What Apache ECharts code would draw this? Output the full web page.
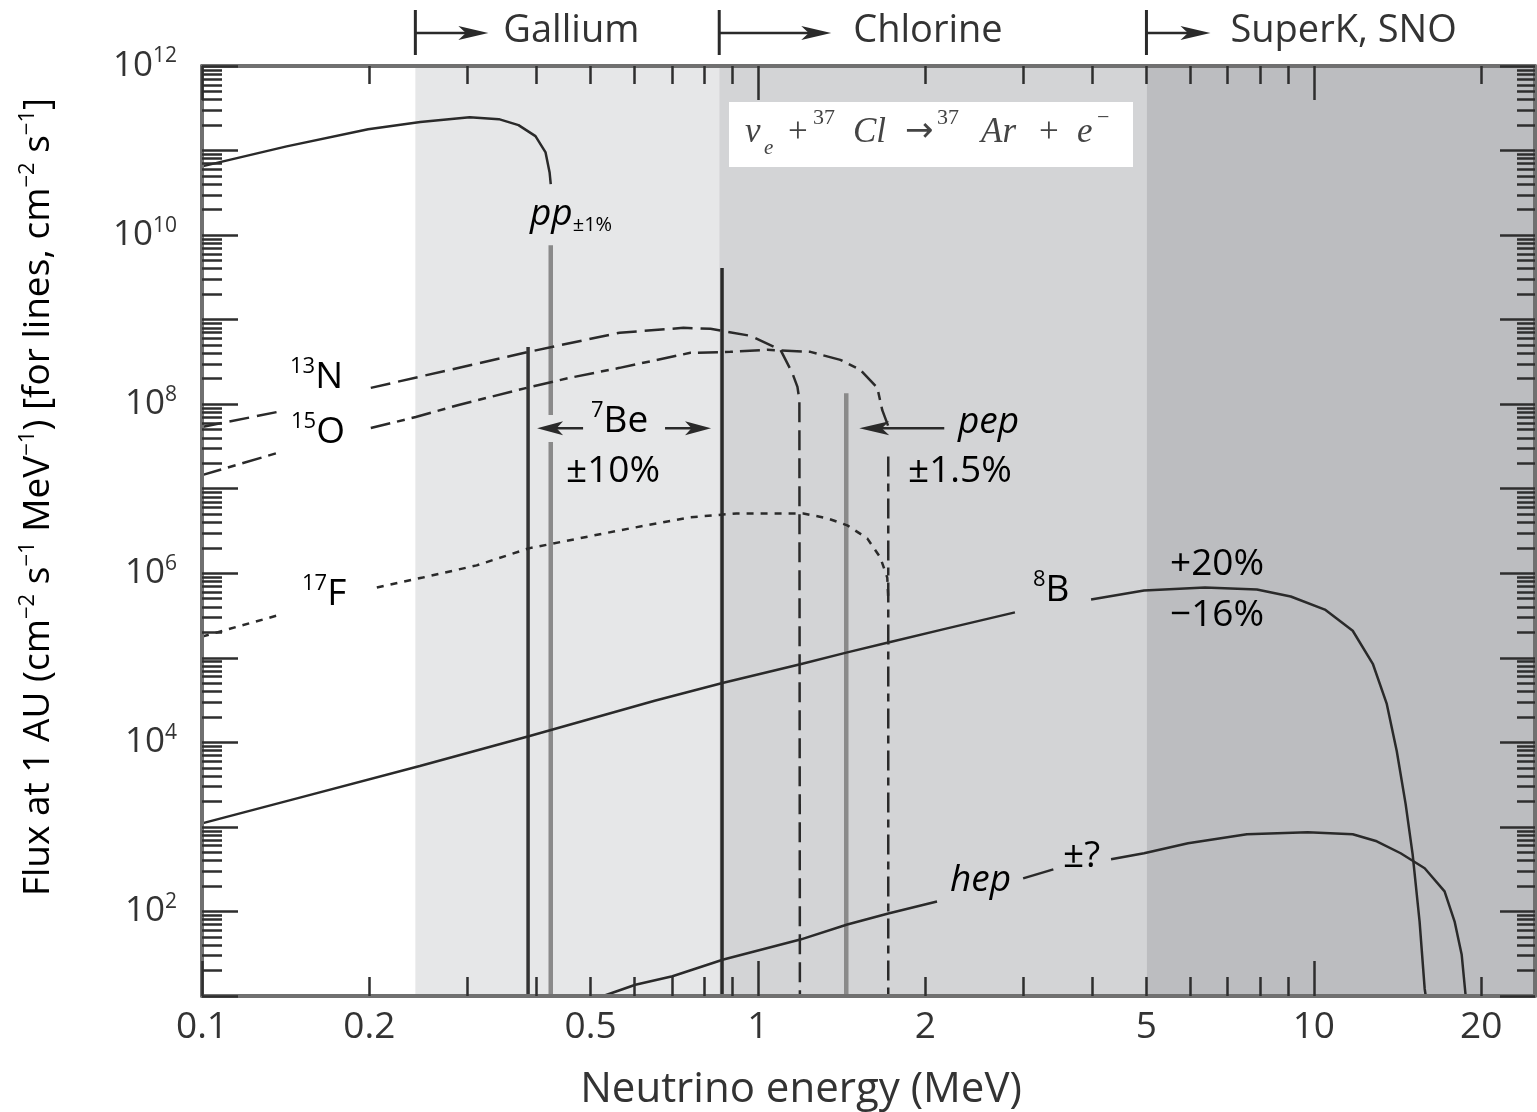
<!DOCTYPE html>
<html>
<head>
<meta charset="utf-8">
<title>Solar neutrino spectrum</title>
<script src="https://cdn.jsdelivr.net/npm/echarts@6/dist/echarts.min.js"></script>
<style>
html, body { margin: 0; padding: 0; background: #fff; }
#main { width: 1537px; height: 1112px; }
</style>
</head>
<body>
<div id="main"></div>
<script>
// axis ranges and ticks
var xMin = 0.1, xMax = 25, yMin = 10, yMax = 1e12;
var xLabelValues = [0.1, 0.2, 0.5, 1, 2, 5, 10, 20];
var xMajorTicks = [0.1, 1, 10];
var xMinorTicks = [0.2, 0.3, 0.4, 0.5, 0.6, 0.7, 0.8, 0.9, 2, 3, 4, 5, 6, 7, 8, 9, 20];
var yLabelValues = [1e2, 1e4, 1e6, 1e8, 1e10, 1e12];
var yMajorTicks = [1e1, 1e2, 1e3, 1e4, 1e5, 1e6, 1e7, 1e8, 1e9, 1e10, 1e11, 1e12];
var yMinorMultipliers = [2, 3, 4, 5, 6, 7, 8, 9];

// detector thresholds (MeV)
var thresholds = [0.242, 0.852, 5.0];
var thresholdNames = ['Gallium', 'Chlorine', 'SuperK, SNO'];

// spectra  [energy MeV, flux]
var ppCurve = [[0.1, 6.5e10], [0.142, 1.12e11], [0.199, 1.79e11], [0.247, 2.17e11], [0.303, 2.48e11],
  [0.342, 2.35e11], [0.371, 2.0e11], [0.398, 1.48e11], [0.415, 9.5e10], [0.422, 5.5e10], [0.424, 4.0e10]];
var ppDropUpper = [[0.424, 7.6e9], [0.424, 7.45e7]];
var ppDropLower = [[0.424, 3.56e7], [0.424, 10]];

var be7LineLow = [[0.386, 4.75e8], [0.386, 10]];
var be7LineHigh = [[0.862, 4.07e9], [0.862, 10]];
var pepLine = [[1.442, 1.35e8], [1.442, 10]];

var n13Left = [[0.1, 5.37e7], [0.1364, 8.07e7]];
var n13Right = [[0.2012, 1.56e8], [0.387, 4.16e8], [0.564, 7.0e8], [0.7347, 8.0e8], [0.8217, 7.8e8],
  [0.9694, 6.44e8], [1.098, 4.4e8], [1.153, 2.34e8], [1.178, 1.6e8], [1.1875, 1.12e8], [1.19, 10]];

var o15Left = [[0.1, 1.45e7], [0.1364, 2.64e7]];
var o15Right = [[0.2012, 5.22e7], [0.2424, 7.05e7], [0.2895, 9.8e7], [0.3837, 1.56e8], [0.4585, 2.05e8],
  [0.564, 2.69e8], [0.756, 4.05e8], [0.892, 4.16e8], [1.04, 4.4e8], [1.243, 4.16e8], [1.407, 3.34e8],
  [1.528, 2.55e8], [1.64, 1.56e8], [1.674, 8.5e7], [1.716, 5.5e7]];
var o15Drop = [[1.716, 2.4e7], [1.716, 10]];

var f17Left = [[0.1, 1.78e5], [0.1364, 3.16e5]];
var f17Right = [[0.2063, 6.8e5], [0.2495, 8.9e5], [0.312, 1.24e6], [0.387, 1.97e6], [0.564, 3.22e6],
  [0.756, 4.6e6], [0.915, 5.1e6], [1.207, 5.1e6], [1.333, 4.47e6], [1.448, 3.69e6], [1.573, 2.59e6],
  [1.66, 1.54e6], [1.709, 8.9e5], [1.716, 5e5]];

var b8Left = [[0.1, 1.1e3], [0.1488, 2.19e3], [0.2465, 5.25e3], [0.3885, 1.19e4], [0.652, 3.1e4],
  [0.867, 5.07e4], [1.192, 8.4e4], [1.448, 1.16e5], [1.716, 1.52e5], [2.19, 2.23e5], [2.90, 3.45e5]];
var b8Right = [[3.975, 4.89e5], [4.95, 6.25e5], [6.37, 6.79e5], [7.90, 6.43e5], [9.09, 5.31e5],
  [10.47, 3.72e5], [11.75, 2.09e5], [12.77, 8.5e4], [13.53, 2.85e4], [14.10, 7.9e3], [14.63, 1.86e3],
  [15.06, 474], [15.50, 76], [15.83, 12.2], [15.9, 10]];

var hepLeft = [[0.527, 10], [0.602, 13.6], [0.702, 17.1], [0.867, 27], [1.192, 46.5], [1.448, 70],
  [1.716, 94.6], [2.10, 131]];
var hepDash = [[3.0, 246], [3.40, 315]];
var hepRight = [[4.318, 414], [4.95, 488], [5.94, 641], [7.58, 819], [9.75, 865], [11.75, 819],
  [12.98, 676], [14.33, 488], [15.83, 324], [17.19, 173], [17.92, 76], [18.45, 31], [18.76, 10]];

// flux level of the 7Be / pep pointer arrows
var pointerFlux = 5.2e7;

var yMinorTicks = [];
yMajorTicks.slice(0, -1).forEach(function (d) {
  yMinorMultipliers.forEach(function (m) { yMinorTicks.push(d * m); });
});

var FONT = '"Open Sans", "Noto Sans", sans-serif';
var SERIF = '"Liberation Serif", "DejaVu Serif", serif';
var INK = '#333333';
var LINE = '#2a2a2a';

var chart = echarts.init(document.getElementById('main'));

function logAxis(pos, min, max, ticks, len, showLine) {
  return {
    type: 'log', logBase: 10, min: min, max: max, position: pos, z: 3, silent: true,
    axisLine: {show: showLine, onZero: false, lineStyle: {color: '#707070', width: 4}},
    axisTick: {show: true, inside: true, length: len, customValues: ticks,
      lineStyle: {color: '#2e2e2e', width: 2.5}},
    axisLabel: {show: false},
    splitLine: {show: false},
    minorTick: {show: false},
    minorSplitLine: {show: false}
  };
}

var xBottom = logAxis('bottom', xMin, xMax, xMinorTicks, 19, true);
xBottom.axisLabel = {
  show: true, customValues: xLabelValues, margin: 13,
  fontSize: 37, fontFamily: FONT, color: INK,
  formatter: function (v) { return String(+v.toPrecision(3)); }
};
var yLeft = logAxis('left', yMin, yMax, yMinorTicks, 20, true);
yLeft.axisLabel = {
  show: true, customValues: yLabelValues, margin: 25,
  formatter: function (v) { return '{b|10}{s|' + Math.round(Math.log10(v)) + '}'; },
  rich: {
    b: {fontSize: 35, lineHeight: 40, fontFamily: FONT, color: INK},
    s: {fontSize: 21, fontFamily: FONT, color: INK, verticalAlign: 'top'}
  }
};

function curve(data, color, width, type) {
  return {
    type: 'line', data: data, symbol: 'none', silent: true, animation: false,
    xAxisIndex: 0, yAxisIndex: 0, z: 2,
    lineStyle: {color: color, width: width, type: type || 'solid'}
  };
}

var shades = curve([], LINE, 0);
shades.markArea = {
  silent: true,
  data: [
    [{xAxis: thresholds[0], itemStyle: {color: '#e6e7e8'}}, {xAxis: thresholds[1]}],
    [{xAxis: thresholds[1], itemStyle: {color: '#d3d4d6'}}, {xAxis: thresholds[2]}],
    [{xAxis: thresholds[2], itemStyle: {color: '#bcbdc0'}}, {xAxis: xMax}]
  ]
};

var dashN = [20, 8], dashO = [20, 7, 8, 7], dashF = [7, 7];

chart.setOption({
  animation: false,
  backgroundColor: '#ffffff',
  textStyle: {fontFamily: FONT},
  grid: {left: 202, right: 2, top: 66, bottom: 116, containLabel: false, outerBoundsMode: 'none'},
  xAxis: [
    xBottom,
    logAxis('bottom', xMin, xMax, xMajorTicks, 35, false),
    logAxis('top', xMin, xMax, xMinorTicks, 18, true),
    logAxis('top', xMin, xMax, xMajorTicks, 34, false)
  ],
  yAxis: [
    yLeft,
    logAxis('left', yMin, yMax, yMajorTicks, 36, false),
    logAxis('right', yMin, yMax, yMinorTicks, 18, true),
    logAxis('right', yMin, yMax, yMajorTicks, 35, false)
  ],
  series: [
    shades,
    curve(ppCurve, LINE, 2.5),
    curve(ppDropUpper, '#8a8a8a', 4.5),
    curve(ppDropLower, '#8a8a8a', 4.5),
    curve(be7LineLow, '#333333', 3.5),
    curve(be7LineHigh, '#2a2a2a', 3.5),
    curve(pepLine, '#8a8a8a', 4.5),
    curve(n13Left, LINE, 2.5, dashN),
    curve(n13Right, LINE, 2.5, dashN),
    curve(o15Left, LINE, 2.5, dashO),
    curve(o15Right, LINE, 2.5, dashO),
    curve(o15Drop, LINE, 2.5, dashO),
    curve(f17Left, LINE, 2.5, dashF),
    curve(f17Right, LINE, 2.5, dashF),
    curve(b8Left, LINE, 2.5),
    curve(b8Right, LINE, 2.5),
    curve(hepLeft, LINE, 2.5),
    curve(hepDash, LINE, 2.5),
    curve(hepRight, LINE, 2.5)
  ]
});

// ---- annotations ----
function px(e, f) { return chart.convertToPixel({gridIndex: 0}, [e, f]); }

function arrow(x1, y, x2, headLen, half, out) {
  var dir = x2 > x1 ? 1 : -1;
  out.push({type: 'line', z: 20, silent: true,
    shape: {x1: x1, y1: y, x2: x2 - dir * headLen * 0.5, y2: y},
    style: {stroke: LINE, lineWidth: 2.5}});
  out.push({type: 'polygon', z: 20, silent: true,
    shape: {points: [[x2, y], [x2 - dir * headLen, y - half], [x2 - dir * headLen * 0.75, y],
      [x2 - dir * headLen, y + half]]},
    style: {fill: LINE}});
}

var g = [];
var topArrowLens = [73, 112, 64];
var topTextGaps = [88, 134, 84];
thresholds.forEach(function (t, i) {
  var x = px(t, yMax)[0];
  g.push({type: 'line', z: 20, silent: true, shape: {x1: x, y1: 10, x2: x, y2: 55},
    style: {stroke: LINE, lineWidth: 3}});
  arrow(x, 33, x + topArrowLens[i], 30, 7, g);
  g.push({type: 'text', z: 20, silent: true, x: x + topTextGaps[i], y: 31,
    style: {text: thresholdNames[i], fill: INK, fontSize: 38, fontFamily: FONT,
      align: 'left', verticalAlign: 'middle'}});
});

// 7Be and pep pointers
var ay = px(1, pointerFlux)[1];
var be7a = px(be7LineLow[0][0], pointerFlux)[0];
var be7b = px(be7LineHigh[0][0], pointerFlux)[0];
var pepx = px(pepLine[0][0], pointerFlux)[0];
arrow(be7a + 55, ay, be7a + 9, 26, 7, g);
arrow(be7b - 57, ay, be7b - 11, 26, 7, g);
arrow(pepx + 98, ay, pepx + 13, 30, 7, g);

var richLabel = {
  b: {fontSize: 37, lineHeight: 42, fontFamily: FONT, color: INK},
  i: {fontSize: 37, lineHeight: 42, fontFamily: FONT, fontStyle: 'italic', color: INK},
  s: {fontSize: 22, fontFamily: FONT, color: INK, verticalAlign: 'top'},
  sub: {fontSize: 20, fontFamily: FONT, color: INK, verticalAlign: 'bottom'}
};
var plotLabels = [
  ['{i|pp}{sub|±1%}', 530, 214],
  ['{s|13}{b|N}', 290, 377],
  ['{s|15}{b|O}', 291, 432],
  ['{s|17}{b|F}', 302, 594],
  ['{s|7}{b|Be}', 591, 421],
  ['{b|±10%}', 566, 471],
  ['{i|pep}', 958, 422],
  ['{b|±1.5%}', 908, 471],
  ['{s|8}{b|B}', 1033, 590],
  ['{b|+20%}', 1170, 564],
  ['{b|\u221216%}', 1170, 615],
  ['{i|hep}', 950, 880],
  ['{b|±?}', 1063, 856]
];
plotLabels.forEach(function (l) {
  g.push({type: 'text', z: 20, silent: true, x: l[1], y: l[2],
    style: {text: l[0], rich: richLabel, align: 'left', verticalAlign: 'middle'}});
});

// reaction box: nu_e + 37Cl -> 37Ar + e-
g.push({type: 'rect', z: 15, silent: true, shape: {x: 729, y: 102, width: 404, height: 65},
  style: {fill: '#ffffff'}});
var eqStyles = {
  m: {fontSize: 35, fontFamily: SERIF, fontStyle: 'italic', y: 133},
  r: {fontSize: 35, fontFamily: SERIF, fontStyle: 'normal', y: 133},
  a: {fontSize: 34, fontFamily: '"DejaVu Sans", sans-serif', fontStyle: 'normal', y: 132},
  sp: {fontSize: 22, fontFamily: SERIF, fontStyle: 'normal', y: 118},
  sb: {fontSize: 21, fontFamily: SERIF, fontStyle: 'italic', y: 148}
};
var eqTokens = [
  ['\u03bd', 745, 'm'], ['e', 764, 'sb'], ['+', 788, 'r'], ['37', 813, 'sp'], ['Cl', 853, 'm'],
  ['\u2192', 905, 'a'], ['37', 937, 'sp'], ['Ar', 981, 'm'], ['+', 1039, 'r'], ['e', 1077, 'm'],
  ['\u2212', 1097, 'sp']
];
eqTokens.forEach(function (t) {
  var s = eqStyles[t[2]];
  g.push({type: 'text', z: 20, silent: true, x: t[1], y: s.y,
    style: {text: t[0], fill: '#444', fontSize: s.fontSize, fontFamily: s.fontFamily,
      fontStyle: s.fontStyle, align: 'left', verticalAlign: 'middle'}});
});

// axis titles
g.push({type: 'text', z: 20, silent: true, x: 801, y: 1090,
  style: {text: 'Neutrino energy (MeV)', fill: INK, fontSize: 42, fontFamily: FONT,
    align: 'center', verticalAlign: 'middle'}});
g.push({type: 'text', z: 20, silent: true, x: 38, y: 497, rotation: Math.PI / 2,
  style: {
    text: '{n|Flux at 1 AU (cm}{s|\u22122}{n| s}{s|\u22121}{n| MeV}{s|\u22121}{n|) [for lines, cm}{s|\u22122}{n| s}{s|\u22121}{n|]}',
    align: 'center', verticalAlign: 'middle',
    rich: {
      n: {fontSize: 37, lineHeight: 42, fontFamily: FONT, color: INK},
      s: {fontSize: 22, fontFamily: FONT, color: INK, verticalAlign: 'top'}
    }
  }});

chart.setOption({graphic: {elements: g}});
</script>
</body>
</html>
